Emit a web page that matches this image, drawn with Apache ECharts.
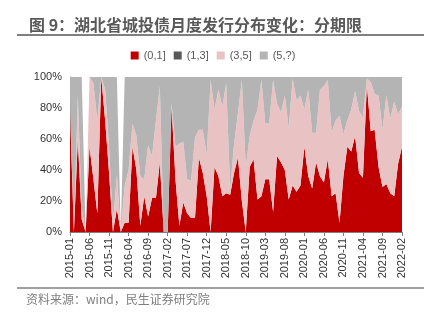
<!DOCTYPE html>
<html><head><meta charset="utf-8">
<script src="https://cdn.jsdelivr.net/npm/echarts@6/dist/echarts.min.js"></script>
<style>html,body{margin:0;padding:0;background:#fff}#c{width:426px;height:321px}</style>
</head><body><div id="c"></div>
<script>
// months 2015-01 .. 2022-02
const categories = [];
for (let y = 2015; y <= 2022; y++) for (let m = 1; m <= 12; m++) {
  if (y === 2022 && m > 2) break;
  categories.push(y + '-' + String(m).padStart(2, '0'));
}
// share (%) of (0,1]
const r01 = [78,0,60,8,0,55,34,12,100,72,38,0,15,0,6,6,55,40,4,23,10,22,22,45,0,0,81,34,4,19,
  12,9,9,48,38,23,0,42,36,23,25,24,38,48,20,0,42,47,21,23,34,34,13,49,45,40,21,30,26,30,
  55,36,28,45,36,32,47,23,25,6,36,55,52,62,38,35,95,65,66,42,29,31,25,23,44,55];
// share (%) of (1,3]
const r13 = new Array(86).fill(0);
// share (%) of (3,5]
const r35 = [8,0,28,7,0,45,62,60,0,20,17,5,22,0,24,34,15,22,32,11,46,27,50,49,0,0,2,21,53,39,
  22,24,52,18,28,27,98,37,56,58,71,3,19,29,78,42,20,25,58,75,36,36,85,34,32,48,46,69,59,58,
  24,56,36,19,56,62,51,41,47,69,27,17,27,29,40,39,4,32,23,46,37,57,48,61,32,26];
// months with no issuance at all
const empty = [4, 13];
const r5p = r01.map((v, i) => empty.includes(i) ? 0 : Math.max(0, 100 - v - r13[i] - r35[i]));
const legendNames = ['(0,1]', '(1,3]', '(3,5]', '(5,?)'];
const colors = ['#C00000', '#595959', '#E9C3C4', '#B4B4B4'];
const yTicks = [0, 20, 40, 60, 80, 100];

const chart = echarts.init(document.getElementById('c'), null, {renderer: 'canvas'});
const mk = (name, data, color) => ({
  name, type: 'line', stack: 'all', data, showSymbol: false, symbol: 'none',
  lineStyle: {width: 0}, areaStyle: {color: color, opacity: 1}, itemStyle: {color: color},
  smooth: false
});
chart.setOption({
  animation: false,
  title: {text: '图 9：湖北省城投债月度发行分布变化：分期限', left: 24, top: 12,
    textStyle: {fontSize: 16, fontWeight: 'bold', color: '#595959', fontFamily: 'Noto Sans CJK SC'}},
  graphic: [
    {type: 'line', shape: {x1: 17, y1: 35, x2: 424, y2: 35}, style: {stroke: '#7F7F7F', lineWidth: 2}},
    {type: 'line', shape: {x1: 17, y1: 288, x2: 424, y2: 288}, style: {stroke: '#7F7F7F', lineWidth: 1.5}},
    {type: 'text', left: 26, top: 293, style: {text: '资料来源：wind，民生证券研究院', fontSize: 12,
      fill: '#7F7F7F', fontFamily: 'Noto Sans CJK SC'}}
  ],
  legend: {data: legendNames, top: 45, left: 'center', icon: 'rect', itemWidth: 8, itemHeight: 8, itemGap: 8,
    textStyle: {fontSize: 11, color: '#595959', fontFamily: 'Liberation Sans'}},
  grid: {left: 70, right: 24, top: 77, bottom: 89},
  xAxis: {type: 'category', data: categories, boundaryGap: false,
    axisLine: {lineStyle: {color: '#7F7F7F'}},
    axisTick: {interval: 4, length: 4, lineStyle: {color: '#7F7F7F'}},
    axisLabel: {interval: 4, rotate: 90, fontSize: 11, color: '#333', fontFamily: 'Liberation Sans', margin: 6}},
  yAxis: {type: 'value', min: yTicks[0], max: yTicks[yTicks.length - 1], interval: 20,
    splitLine: {show: false},
    axisLine: {show: true, lineStyle: {color: '#7F7F7F'}},
    axisTick: {show: true, inside: true, length: 3, lineStyle: {color: '#7F7F7F'}},
    axisLabel: {formatter: '{value}%', fontSize: 11, color: '#333', fontFamily: 'Liberation Sans'}},
  series: [
    mk(legendNames[0], r01, colors[0]),
    mk(legendNames[1], r13, colors[1]),
    mk(legendNames[2], r35, colors[2]),
    mk(legendNames[3], r5p, colors[3])
  ]
});
</script></body></html>
